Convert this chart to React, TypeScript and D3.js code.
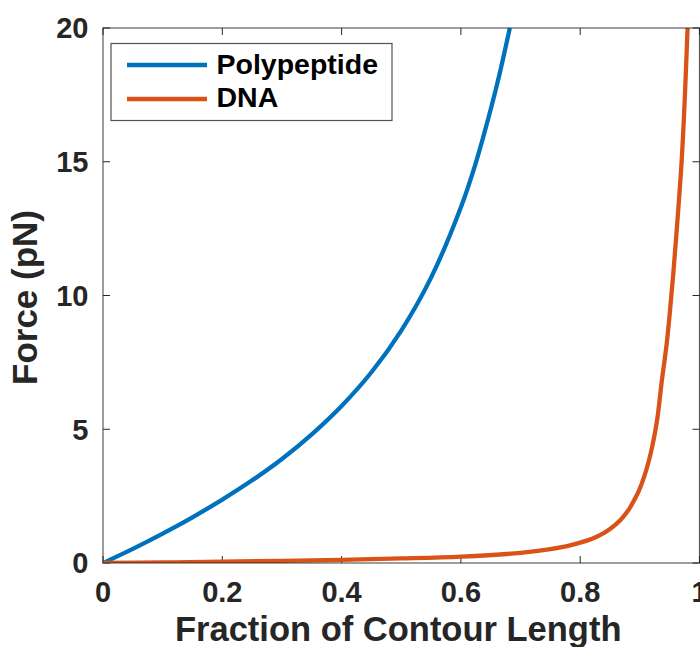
import React from "react";
import * as d3 from "d3";

// Fractional extension (x / contour length) and force in pN
const polypeptideX = [0, 0.05, 0.1, 0.15, 0.2, 0.25, 0.3, 0.35, 0.4, 0.45, 0.5, 0.55, 0.6, 0.625, 0.65, 0.665, 0.682];
const polypeptideF = [0, 0.53, 1.1, 1.71, 2.37, 3.09, 3.89, 4.81, 5.87, 7.13, 8.69, 10.67, 13.3, 14.96, 16.96, 18.3, 20.0];

const dnaX = [0, 0.1, 0.2, 0.3, 0.4, 0.5, 0.6, 0.7, 0.75, 0.78, 0.8, 0.82, 0.834, 0.85, 0.8675, 0.88, 0.89, 0.898, 0.907, 0.914, 0.921, 0.929, 0.937, 0.945, 0.95, 0.956, 0.963, 0.97, 0.975, 0.98];
const dnaF = [0, 0.02, 0.05, 0.08, 0.12, 0.17, 0.24, 0.38, 0.52, 0.64, 0.76, 0.91, 1.05, 1.27, 1.61, 1.95, 2.33, 2.68, 3.21, 3.73, 4.38, 5.35, 6.84, 8.2, 9.3, 10.8, 12.8, 15.0, 17.2, 20.0];

const xTicks = [0, 0.2, 0.4, 0.6, 0.8, 1];
const yTicks = [0, 5, 10, 15, 20];

const seriesNames = ["Polypeptide", "DNA"];
const seriesColors = ["#0072BD", "#D95319"];

const W = 700;
const H = 647;
const left = 103;
const right = 699.5;
const top = 28;
const bottom = 563;

const FONT = "'Liberation Sans', Arial, Helvetica, sans-serif";
const AXIS = "#262626";

export default function App() {
  const x = d3.scaleLinear().domain([0, 1]).range([left, right]);
  const y = d3.scaleLinear().domain([0, 20]).range([bottom, top]);

  const line = d3
    .line<[number, number]>()
    .x((d) => x(d[0]))
    .y((d) => y(d[1]))
    .curve(d3.curveCatmullRom.alpha(0.5));

  const series = [
    polypeptideX.map((v, i) => [v, polypeptideF[i]] as [number, number]),
    dnaX.map((v, i) => [v, dnaF[i]] as [number, number]),
  ];

  const tick = 7;

  return (
    <svg
      width={W}
      height={H}
      style={{ position: "absolute", left: 0, top: 0, background: "#fff" }}
      fontFamily={FONT}
    >
      <defs>
        <clipPath id="plotClip">
          <rect x={left} y={top} width={right - left} height={bottom - top} />
        </clipPath>
      </defs>
      <rect x={0} y={0} width={W} height={H} fill="#fff" />

      {/* ticks on all four sides, pointing inward */}
      {xTicks.map((t) => (
        <g key={"xt" + t}>
          <line x1={x(t)} x2={x(t)} y1={bottom} y2={bottom - tick} stroke={AXIS} strokeWidth={1} />
          <line x1={x(t)} x2={x(t)} y1={top} y2={top + tick} stroke={AXIS} strokeWidth={1} />
          <text
            x={x(t)}
            y={602}
            textAnchor="middle"
            fontSize={29}
            fontWeight="bold"
            fill={AXIS}
          >
            {t === 0 || t === 1 ? String(t) : t.toFixed(1)}
          </text>
        </g>
      ))}
      {yTicks.map((t) => (
        <g key={"yt" + t}>
          <line x1={left} x2={left + tick} y1={y(t)} y2={y(t)} stroke={AXIS} strokeWidth={1} />
          <line x1={right} x2={right - tick} y1={y(t)} y2={y(t)} stroke={AXIS} strokeWidth={1} />
          <text
            x={88.5}
            y={y(t) + 10.3}
            textAnchor="end"
            fontSize={29}
            fontWeight="bold"
            fill={AXIS}
          >
            {t}
          </text>
        </g>
      ))}

      {/* curves */}
      <g clipPath="url(#plotClip)">
        {series.map((s, i) => (
          <path
            key={seriesNames[i]}
            d={line(s) || ""}
            fill="none"
            stroke={seriesColors[i]}
            strokeWidth={4.3}
            strokeLinejoin="round"
          />
        ))}
      </g>

      {/* axes box */}
      <rect
        x={left}
        y={top}
        width={right - left}
        height={bottom - top}
        fill="none"
        stroke={AXIS}
        strokeOpacity={0.75}
        strokeWidth={1.2}
      />

      {/* legend */}
      <rect x={111} y={43.5} width={281} height={77} fill="#fff" stroke={AXIS} strokeOpacity={0.8} strokeWidth={1.2} />
      {seriesNames.map((name, i) => (
        <g key={"lg" + name}>
          <line
            x1={127}
            x2={207}
            y1={65 + i * 34}
            y2={65 + i * 34}
            stroke={seriesColors[i]}
            strokeWidth={4.3}
          />
          <text x={216.5} y={73.5 + i * 33} fontSize={28.5} fontWeight="bold" fill="#000">
            {name}
          </text>
        </g>
      ))}

      {/* axis titles */}
      <text
        x={(left + right) / 2 - 3}
        y={641}
        textAnchor="middle"
        fontSize={34.5}
        fontWeight="bold"
        fill={AXIS}
      >
        Fraction of Contour Length
      </text>
      <text
        transform={`translate(37, ${(top + bottom) / 2 + 2}) rotate(-90)`}
        textAnchor="middle"
        fontSize={35}
        fontWeight="bold"
        fill={AXIS}
      >
        Force (pN)
      </text>
    </svg>
  );
}
